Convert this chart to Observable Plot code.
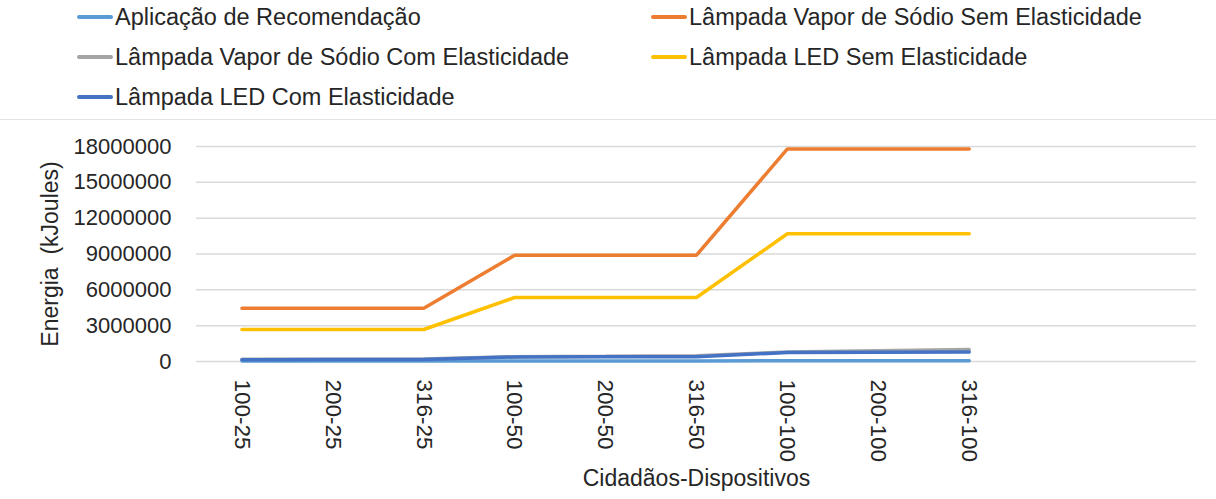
<!DOCTYPE html>
<html>
<head>
<meta charset="utf-8">
<script src="https://cdn.jsdelivr.net/npm/d3@7"></script>
<script src="https://cdn.jsdelivr.net/npm/@observablehq/plot@0.6"></script>
<style>
  body { margin: 0; background: #fff; font-family: "Liberation Sans", Arial, sans-serif; color: #262626; }
  #legend { position: relative; height: 119px; border-bottom: 1px solid #e4e4e4; }
  .item { position: absolute; display: flex; align-items: center; font-size: 23.5px; height: 30px; white-space: nowrap; }
  .sw { width: 36px; height: 3.5px; border-radius: 2px; margin-right: 2px; }
</style>
</head>
<body>
<div id="legend"></div>
<div id="chart"></div>
<script>
const categories = ["100-25","200-25","316-25","100-50","200-50","316-50","100-100","200-100","316-100"];
const seriesNames = [
  "Aplicação de Recomendação",
  "Lâmpada Vapor de Sódio Sem Elasticidade",
  "Lâmpada Vapor de Sódio Com Elasticidade",
  "Lâmpada LED Sem Elasticidade",
  "Lâmpada LED Com Elasticidade"
];
const seriesColors = ["#5B9BD5", "#ED7D31", "#A5A5A5", "#FFC000", "#4472C4"];
const aplicacao = [40000, 40000, 40000, 50000, 50000, 50000, 60000, 60000, 60000];
const sodioSem = [4450000, 4450000, 4450000, 8900000, 8900000, 8900000, 17800000, 17800000, 17800000];
const sodioCom = [180000, 190000, 200000, 400000, 430000, 480000, 800000, 900000, 1000000];
const ledSem = [2680000, 2680000, 2680000, 5360000, 5360000, 5360000, 10700000, 10700000, 10700000];
const ledCom = [150000, 160000, 170000, 380000, 390000, 400000, 750000, 780000, 800000];
const yTicks = [0, 3000000, 6000000, 9000000, 12000000, 15000000, 18000000];
const yLabel = "Energia  (kJoules)";
const xLabel = "Cidadãos-Dispositivos";

const seriesValues = [aplicacao, sodioSem, sodioCom, ledSem, ledCom];

// legend
const legendPos = [[77, 2], [651, 2], [77, 42], [651, 42], [77, 82]];
const legend = document.getElementById("legend");
seriesNames.forEach((name, i) => {
  const d = document.createElement("div");
  d.className = "item";
  d.style.left = legendPos[i][0] + "px";
  d.style.top = legendPos[i][1] + "px";
  d.innerHTML = `<span class="sw" style="background:${seriesColors[i]}"></span><span>${name}</span>`;
  legend.appendChild(d);
});

const data = [];
seriesValues.forEach((vals, s) => vals.forEach((v, i) => data.push({s, i, v})));

const chart = Plot.plot({
  width: 1216,
  height: 379,
  marginLeft: 196,
  marginRight: 20,
  marginTop: 26,
  marginBottom: 138,
  style: { fontFamily: "'Liberation Sans', Arial, sans-serif", fontSize: "22px", color: "#262626" },
  x: { type: "linear", domain: [-0.5, 10.5] },
  y: { domain: [0, 18000000] },
  marks: [
    Plot.ruleY(yTicks, { stroke: "#d9d9d9", strokeWidth: 1.5 }),
    Plot.axisY({ ticks: yTicks, tickSize: 0, tickPadding: 25, tickFormat: d => String(d), label: null, fontSize: 22 }),
    Plot.axisX({ ticks: d3.range(categories.length), tickSize: 0, tickPadding: 18, tickRotate: 90, tickFormat: i => categories[i], label: null, fontSize: 22.5 }),
    ...seriesValues.map((vals, s) =>
      Plot.lineY(data.filter(d => d.s === s), { x: "i", y: "v", stroke: seriesColors[s], strokeWidth: 3.5, strokeLinecap: "round", strokeLinejoin: "miter" })
    ),
    Plot.text([yLabel], { frameAnchor: "left", dx: -146, rotate: -90, textAnchor: "middle", fontSize: 23, fill: "#262626" }),
    Plot.text([xLabel], { frameAnchor: "bottom", dy: 124, textAnchor: "middle", fontSize: 23, fill: "#262626" })
  ]
});
document.getElementById("chart").appendChild(chart);
</script>
</body>
</html>
